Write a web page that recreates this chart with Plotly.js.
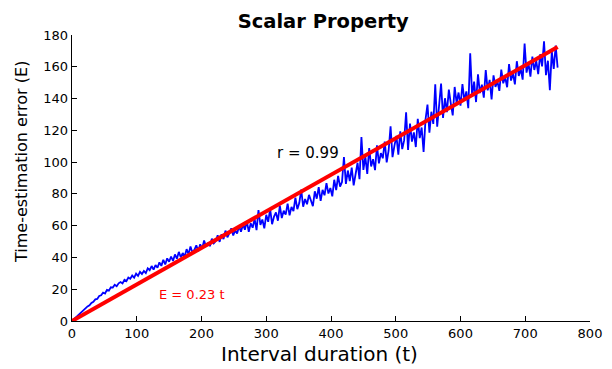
<!DOCTYPE html>
<html>
<head>
<meta charset="utf-8">
<script src="https://cdn.plot.ly/plotly-3.0.1.min.js"></script>
<style>html,body{margin:0;padding:0;background:#fff;}#chart{width:612px;height:369px;}</style>
</head>
<body>
<div id="chart"></div>
<script>
// Sampling step of interval duration (t)
const durationStep = 3;
// Observed time-estimation error (E), one value per step of t starting at 0
const errorValues = [
  0, 1.2, 2.5, 3.6, 4.8, 5.5, 7.3, 8.0, 9.2, 9.9, 11.4,
  12.1, 13.6, 13.9, 15.8, 16.2, 17.9, 17.3, 19.6, 19.1, 21.2,
  21.0, 22.8, 21.9, 23.7, 24.5, 23.6, 25.9, 25.1, 27.4, 26.6,
  28.6, 27.3, 29.8, 28.4, 30.9, 29.6, 31.5, 30.1, 33.2, 32.0,
  34.6, 32.3, 35.2, 33.5, 36.9, 34.7, 38.5, 35.6, 39.4, 37.3,
  40.6, 37.8, 41.9, 39.2, 43.5, 40.1, 42.8, 40.6, 45.2, 42.1,
  46.9, 43.0, 44.8, 47.6, 43.9, 48.3, 45.5, 50.7, 46.8, 49.2,
  47.1, 51.8, 48.9, 50.3, 53.9, 49.8, 54.6, 51.5, 56.9, 52.7,
  55.3, 58.4, 53.8, 57.1, 55.0, 59.6, 56.2, 60.8, 57.4, 62.9,
  56.1, 61.5, 58.7, 64.3, 57.2, 69.8, 60.5, 63.9, 58.3, 66.8,
  62.4, 70.5, 60.9, 65.7, 68.3, 63.1, 72.6, 64.8, 69.4, 67.0,
  73.9, 66.5, 71.8, 69.2, 77.6, 70.4, 74.2, 82.7, 71.9, 76.8,
  73.5, 79.4, 75.8, 72.3, 81.6, 77.0, 84.2, 75.6, 82.5, 79.1,
  86.8, 80.2, 83.7, 78.5, 88.9, 82.4, 91.3, 84.6, 87.5, 103.2,
  86.3, 94.7, 88.1, 96.5, 85.4, 92.8, 99.6, 89.2, 115.8, 95.1,
  103.4, 92.6, 108.9, 97.3, 101.8, 94.9, 110.6, 99.2, 105.7, 102.4,
  112.9, 99.8, 107.3, 122.6, 103.1, 110.4, 116.5, 104.7, 119.3, 108.2,
  113.8, 131.4, 107.6, 124.2, 112.9, 118.7, 109.5, 127.3, 115.1, 121.8,
  106.4, 126.9, 136.2, 118.5, 131.7, 124.0, 148.9, 122.3, 134.6, 149.5,
  127.8, 140.2, 131.5, 145.6, 136.9, 129.4, 147.3, 137.2, 143.8, 135.6,
  149.1, 138.7, 144.5, 133.9, 168.5, 141.3, 150.6, 137.8, 155.2, 143.4,
  148.7, 140.6, 157.9, 145.2, 151.8, 139.5, 154.6, 147.3, 150.9, 144.8,
  158.2, 149.6, 153.4, 147.1, 161.7, 151.3, 155.8, 148.9, 163.5, 154.2,
  158.6, 151.9, 174.6, 156.3, 162.1, 153.8, 166.4, 158.0, 163.7, 155.4,
  167.9, 160.2, 176.1, 154.7, 163.8, 145.3, 169.7, 158.6, 173.4, 159.5
];
const durations = errorValues.map((_, i) => i * durationStep);

// Fitted line E = 0.23 t (endpoints)
const fitT = [0, 750];
const fitE = [0, 172.5];

const xTicks = [0, 100, 200, 300, 400, 500, 600, 700, 800];
const yTicks = [0, 20, 40, 60, 80, 100, 120, 140, 160, 180];

const FONT = '"DejaVu Sans", "Liberation Sans", Arial, sans-serif';

const traces = [
  {x: durations, y: errorValues, type: 'scatter', mode: 'lines',
   line: {color: '#0000ff', width: 1.8}, hoverinfo: 'skip'},
  {x: fitT, y: fitE, type: 'scatter', mode: 'lines',
   line: {color: '#ff0000', width: 4}, hoverinfo: 'skip'}
];

const layout = {
  width: 612, height: 369,
  margin: {l: 72, r: 22, t: 35, b: 48},
  paper_bgcolor: '#fff', plot_bgcolor: '#fff',
  showlegend: false,
  font: {family: FONT, color: '#000', size: 13},
  title: {text: '<b>Scalar Property</b>', font: {family: FONT, size: 19.5, color: '#000'},
          x: 0.485, xref: 'paper', xanchor: 'center', y: 0.943, yref: 'container', yanchor: 'middle'},
  xaxis: {range: [0, 800], tickvals: xTicks, ticktext: xTicks.map(String),
          showgrid: false, zeroline: false, showline: true, linecolor: '#000', linewidth: 1.3,
          ticks: 'inside', ticklen: 5, tickwidth: 1, tickcolor: '#000',
          tickfont: {size: 13, family: FONT}, fixedrange: true},
  yaxis: {range: [0, 180], tickvals: yTicks, ticktext: yTicks.map(String),
          showgrid: false, zeroline: false, showline: true, linecolor: '#000', linewidth: 1.3,
          ticks: 'inside', ticklen: 5, tickwidth: 1, tickcolor: '#000',
          tickfont: {size: 13, family: FONT}, fixedrange: true},
  annotations: [
    {x: 0.477, y: -0.115, xref: 'paper', yref: 'paper', xanchor: 'center', yanchor: 'middle',
     text: 'Interval duration (t)', showarrow: false, font: {size: 20, color: '#000', family: FONT}},
    {x: -0.0965, y: 0.556, xref: 'paper', yref: 'paper', xanchor: 'center', yanchor: 'middle',
     textangle: -90, text: 'Time-estimation error (E)', showarrow: false,
     font: {size: 16, color: '#000', family: FONT}},
    {x: 365, y: 106, xref: 'x', yref: 'y', text: 'r = 0.99', showarrow: false,
     font: {size: 15, color: '#000', family: FONT}},
    {x: 185, y: 16.5, xref: 'x', yref: 'y', text: 'E = 0.23 t', showarrow: false,
     font: {size: 13, color: '#ff0000', family: FONT}}
  ]
};

Plotly.newPlot('chart', traces, layout, {displayModeBar: false, staticPlot: true});
</script>
</body>
</html>
